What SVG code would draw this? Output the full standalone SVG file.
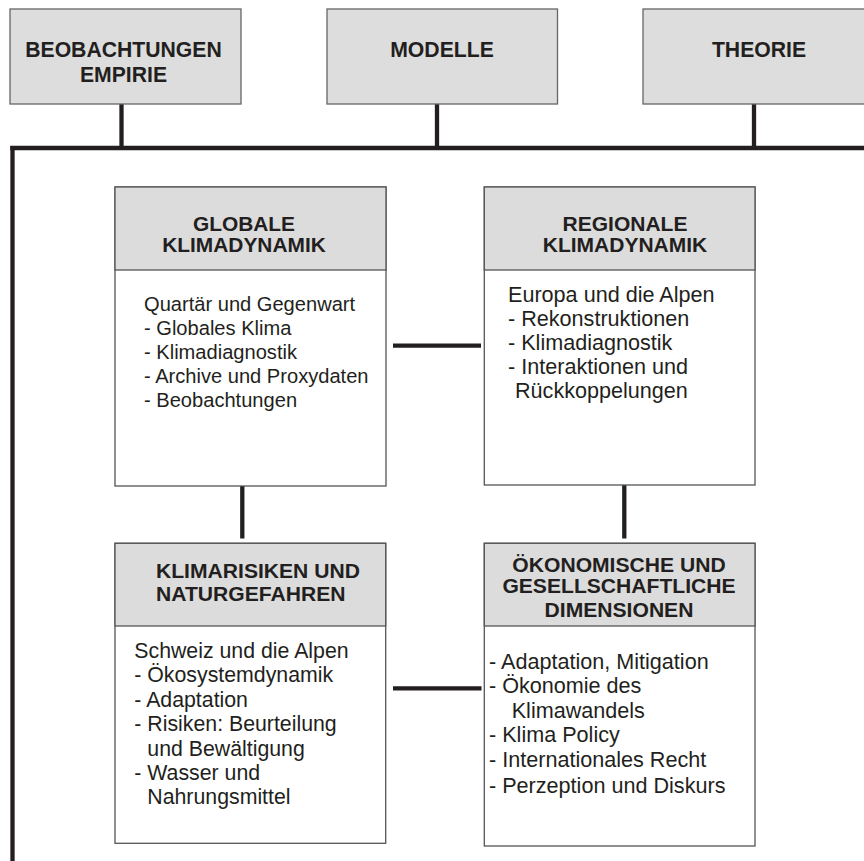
<svg xmlns="http://www.w3.org/2000/svg" width="864" height="861" viewBox="0 0 864 861">
<style>
.top{fill:#dddddd;stroke:#666;stroke-width:1.3}
.box{fill:#ffffff;stroke:#555;stroke-width:1.3}
.hdr{fill:#dcdcdc;stroke:#555;stroke-width:1.3}
.ht{font-family:"Liberation Sans",Arial,sans-serif;font-weight:bold;fill:#231f20}
.bt{font-family:"Liberation Sans",Arial,sans-serif;fill:#231f20}
.ln{stroke:#231f20;stroke-width:4.3;fill:none;stroke-linecap:butt}
</style>
<g id="connectors">
<line class="ln" x1="12.5" y1="146" x2="12.5" y2="861"/>
<line class="ln" x1="10.3" y1="148" x2="864" y2="148"/>
<line class="ln" x1="121.5" y1="104" x2="121.5" y2="148"/>
<line class="ln" x1="437" y1="104" x2="437" y2="148"/>
<line class="ln" x1="754" y1="104" x2="754" y2="148"/>
<line class="ln" x1="393" y1="345.7" x2="481" y2="345.7"/>
<line class="ln" x1="393" y1="688.3" x2="481.5" y2="688.3"/>
<line class="ln" x1="242.3" y1="486" x2="242.3" y2="538.5"/>
<line class="ln" x1="624.3" y1="485" x2="624.3" y2="538.5"/>
</g>
<g id="beobachtungen" font-size="21.2">
<rect class="top" x="10" y="9" width="231" height="95"/>
<text class="ht" x="123.5" y="57.3" text-anchor="middle">BEOBACHTUNGEN</text>
<text class="ht" x="123.5" y="81.7" text-anchor="middle">EMPIRIE</text>
</g>
<g id="modelle" font-size="21.2">
<rect class="top" x="327" y="9" width="230.5" height="95"/>
<text class="ht" x="442" y="57.3" text-anchor="middle">MODELLE</text>
</g>
<g id="theorie" font-size="21.2">
<rect class="top" x="643" y="9" width="232" height="95"/>
<text class="ht" x="759" y="57.3" text-anchor="middle">THEORIE</text>
</g>
<g id="globale" font-size="20.9">
<rect class="box" x="115" y="187" width="271" height="299"/>
<rect class="hdr" x="115" y="187" width="271" height="83"/>
<text class="ht" x="244" y="231" text-anchor="middle">GLOBALE</text>
<text class="ht" x="244" y="252" text-anchor="middle">KLIMADYNAMIK</text>
<g font-size="20.1">
<text class="bt" x="144" y="311">Quartär und Gegenwart</text>
<text class="bt" x="144" y="335">- Globales Klima</text>
<text class="bt" x="144" y="359">- Klimadiagnostik</text>
<text class="bt" x="144" y="383">- Archive und Proxydaten</text>
<text class="bt" x="144" y="407">- Beobachtungen</text>
</g>
</g>
<g id="regionale" font-size="21">
<rect class="box" x="484.3" y="187" width="270.7" height="298"/>
<rect class="hdr" x="484.3" y="187" width="270.7" height="83"/>
<text class="ht" x="625" y="231" text-anchor="middle">REGIONALE</text>
<text class="ht" x="625" y="252" text-anchor="middle">KLIMADYNAMIK</text>
<g font-size="21.6">
<text class="bt" x="508" y="302">Europa und die Alpen</text>
<text class="bt" x="508" y="325.5">- Rekonstruktionen</text>
<text class="bt" x="508" y="350">- Klimadiagnostik</text>
<text class="bt" x="508" y="374">- Interaktionen und</text>
<text class="bt" x="515" y="398.3">Rückkoppelungen</text>
</g>
</g>
<g id="klimarisiken" font-size="21.1">
<rect class="box" x="115" y="543.3" width="270.7" height="300"/>
<rect class="hdr" x="115" y="543.3" width="270.7" height="82.7"/>
<text class="ht" x="156" y="578">KLIMARISIKEN UND</text>
<text class="ht" x="156" y="600.5">NATURGEFAHREN</text>
<g font-size="21.3">
<text class="bt" x="134.3" y="658.3">Schweiz und die Alpen</text>
<text class="bt" x="134.3" y="682">- Ökosystemdynamik</text>
<text class="bt" x="134.3" y="706.7">- Adaptation</text>
<text class="bt" x="134.3" y="730.5">- Risiken: Beurteilung</text>
<text class="bt" x="147.3" y="756">und Bewältigung</text>
<text class="bt" x="134.3" y="780">- Wasser und</text>
<text class="bt" x="147.3" y="804.3">Nahrungsmittel</text>
</g>
</g>
<g id="oekonomische" font-size="21.1">
<rect class="box" x="484.3" y="543.3" width="270.7" height="302.7"/>
<rect class="hdr" x="484.3" y="543.3" width="270.7" height="82.7"/>
<text class="ht" x="619" y="571.7" text-anchor="middle">ÖKONOMISCHE UND</text>
<text class="ht" x="619" y="593.3" text-anchor="middle">GESELLSCHAFTLICHE</text>
<text class="ht" x="619" y="616.7" text-anchor="middle">DIMENSIONEN</text>
<g font-size="21.6">
<text class="bt" x="489" y="669.3">- Adaptation, Mitigation</text>
<text class="bt" x="489" y="692.7">- Ökonomie des</text>
<text class="bt" x="511.7" y="718.3">Klimawandels</text>
<text class="bt" x="489" y="741.7">- Klima Policy</text>
<text class="bt" x="489" y="766.7">- Internationales Recht</text>
<text class="bt" x="489" y="792.7">- Perzeption und Diskurs</text>
</g>
</g>
</svg>
